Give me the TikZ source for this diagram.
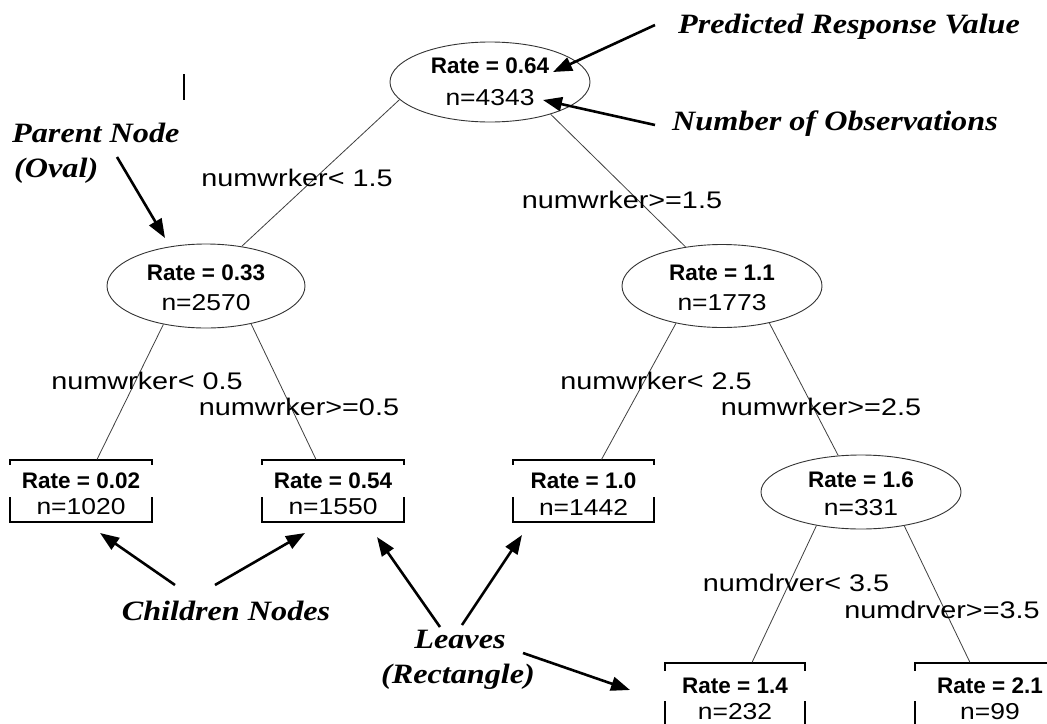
\documentclass[tikz,border=0pt]{standalone}
\usepackage{fontspec}
\setmainfont{Liberation Sans}
\newfontfamily\nfont{Liberation Sans}[FakeStretch=1.15]
\newfontfamily\lfont{Liberation Sans}[FakeStretch=1.2]
\newfontfamily\afont{Liberation Serif}[FakeStretch=1.15]
\usetikzlibrary{shapes.geometric,arrows.meta}
\tikzset{
  oval/.style={ellipse, draw=black!80, line width=0.9pt, inner sep=0pt, minimum width=200pt, minimum height=80pt},
  leaf/.style={rectangle, draw=black, line width=1.1pt, inner sep=0pt, minimum width=142pt, minimum height=62pt},
  rt/.style={font=\fontsize{22.5}{26}\selectfont\bfseries, inner sep=0pt},
  rtc/.style={rt, fill=white, minimum width=148pt, minimum height=32pt},
  nt/.style={font=\nfont\fontsize{23}{26}\selectfont, inner sep=0pt},
  tedge/.style={draw=black!75, line width=0.8pt},
  elabel/.style={font=\lfont\fontsize{24}{27}\selectfont, inner sep=0pt},
  annot/.style={font=\afont\bfseries\itshape\fontsize{28}{31}\selectfont, inner sep=0pt, anchor=base west},
  pointer/.style={line width=2.6pt, -{Triangle[length=19pt,width=14pt]}}
}
\begin{document}
\begin{tikzpicture}[x=1pt,y=-1pt]
\path[use as bounding box] (0,0) rectangle (1047,723);
\clip (0,0) rectangle (1047,723);
\fill[white] (0,0) rectangle (1047,723);

% internal nodes
\node[oval, minimum height=80pt] (n0) at (490,82) {};
\node[rt] (n0r) at (490,66) {Rate = 0.64};
\node[nt] (n0n) at (490,98) {n=4343};

\node[oval, minimum width=198pt, minimum height=84pt] (n1) at (206,286) {};
\node[rt] (n1r) at (206,273) {Rate = 0.33};
\node[nt] (n1n) at (206,303) {n=2570};

\node[oval, minimum height=83pt] (n2) at (722,286) {};
\node[rt] (n2r) at (722,273) {Rate = 1.1};
\node[nt] (n2n) at (722,303) {n=1773};

\node[oval, minimum height=74pt] (n3) at (861,492) {};
\node[rt] (n3r) at (861,480) {Rate = 1.6};
\node[nt] (n3n) at (861,508) {n=331};

% leaves
\node[leaf] (l1) at (81,491) {};
\node[rtc] (l1r) at (81,481) {Rate = 0.02};
\node[nt] (l1n) at (81,507) {n=1020};

\node[leaf] (l2) at (333,491) {};
\node[rtc] (l2r) at (333,481) {Rate = 0.54};
\node[nt] (l2n) at (333,507) {n=1550};

\node[leaf, minimum width=141pt] (l3) at (583.5,491) {};
\node[rtc] (l3r) at (583.5,481) {Rate = 1.0};
\node[nt] (l3n) at (583.5,507) {n=1442};

\node[leaf, minimum width=140pt] (l4) at (735,694) {};
\node[rtc, minimum height=30pt] (l4r) at (735,686) {Rate = 1.4};
\node[nt] (l4n) at (735,712) {n=232};

\node[leaf, minimum width=150pt] (l5) at (990,694) {};
\node[rtc, minimum height=30pt, minimum width=156pt] (l5r) at (990,686) {Rate = 2.1};
\node[nt] (l5n) at (990,712) {n=99};

% tree edges
\draw[tedge] (n0.191) -- (n1.48);
\draw[tedge] (n0.332) -- (n2.133);
\draw[tedge] (n1.222) -- ([xshift=16pt]l1.north);
\draw[tedge] (n1.320) -- ([xshift=-17pt]l2.north);
\draw[tedge] (n2.219) -- ([xshift=18pt]l3.north);
\draw[tedge] (n2.322) -- (n3.122);
\draw[tedge] (n3.217) -- ([xshift=17pt]l4.north);
\draw[tedge] (n3.322) -- ([xshift=-20pt]l5.north);

% edge labels
\node[elabel] (e1) at (297,178) {numwrker< 1.5};
\node[elabel] (e2) at (622,200) {numwrker>=1.5};
\node[elabel] (e3) at (147,381) {numwrker< 0.5};
\node[elabel] (e4) at (299,407) {numwrker>=0.5};
\node[elabel] (e5) at (656,381) {numwrker< 2.5};
\node[elabel] (e6) at (821,407) {numwrker>=2.5};
\node[elabel] (e7) at (796,583) {numdrver< 3.5};
\node[elabel] (e8) at (942,610) {numdrver>=3.5};

% annotations
\node[annot] (tpred) at (678,33) {Predicted Response Value};
\node[annot] (tnum) at (672,130) {Number of Observations};
\node[annot] (tpar) at (12,142) {Parent Node};
\node[annot] (toval) at (14,177) {(Oval)};
\node[annot, anchor=base] (tchild) at (226,620) {Children Nodes};
\node[annot, anchor=base] (tleaf) at (460,648) {Leaves};
\node[annot, anchor=base] (trect) at (458,683) {(Rectangle)};

\coordinate (p1s) at (655,25);  \coordinate (p1e) at (553,72);
\coordinate (p2s) at (655,125); \coordinate (p2e) at (543,100);
\coordinate (p3s) at (117,157); \coordinate (p3e) at (165,238);
\coordinate (p4s) at (175,585); \coordinate (p4e) at (100,533);
\coordinate (p5s) at (215,585); \coordinate (p5e) at (305,533);
\coordinate (p6s) at (440,627); \coordinate (p6e) at (377,537);
\coordinate (p7s) at (462,625); \coordinate (p7e) at (522,535);
\coordinate (p8s) at (523,653); \coordinate (p8e) at (630,690);

\draw[pointer] (p1s) -- (p1e);
\draw[pointer] (p2s) -- (p2e);
\draw[pointer] (p3s) -- (p3e);
\draw[pointer] (p4s) -- (p4e);
\draw[pointer] (p5s) -- (p5e);
\draw[pointer] (p6s) -- (p6e);
\draw[pointer] (p7s) -- (p7e);
\draw[pointer] (p8s) -- (p8e);

% stray mark
\draw[line width=2.4pt] (184,74) -- (184,100);
\end{tikzpicture}
\end{document}
